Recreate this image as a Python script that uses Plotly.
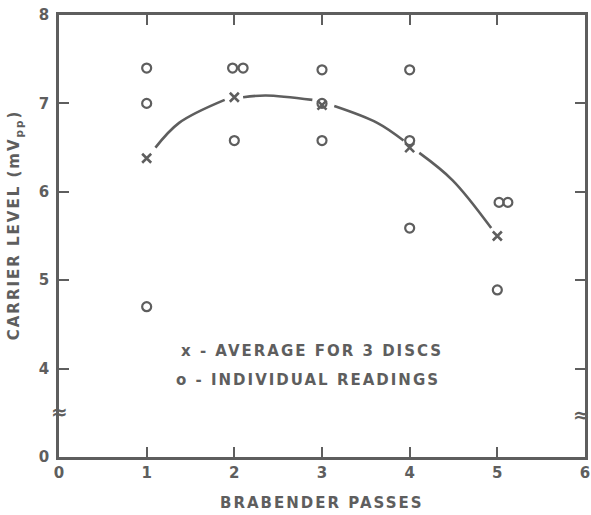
import plotly.graph_objects as go

# Brabender passes vs carrier level
passes = [1, 2, 3, 4, 5]
avg_level = [6.38, 7.07, 6.98, 6.50, 5.50]

indiv_x = [1, 1, 1, 1.98, 2.10, 2, 3, 3, 3, 4, 4, 4, 5.02, 5.12, 5.0]
indiv_y = [7.40, 7.00, 4.70, 7.40, 7.40, 6.58, 7.38, 7.00, 6.58, 7.38, 6.58, 5.59, 5.88, 5.88, 4.89]

# hand-drawn fit curve, broken around the markers
curve_x = [1.10, 1.37, 1.89, None, 2.10, 2.36, 2.89, None, 3.14, 3.63, 3.93, None, 4.11, 4.49, 4.93]
curve_y = [6.50, 6.78, 7.04, None, 7.07, 7.09, 7.04, None, 6.97, 6.78, 6.58, None, 6.44, 6.13, 5.59]

x_ticks = [0, 1, 2, 3, 4, 5, 6]
y_ticks = [3, 4, 5, 6, 7, 8]
y_tick_text = ["0", "4", "5", "6", "7", "8"]

ink = "#5e5e5e"
font = "DejaVu Sans"
label_font = dict(size=15, color=ink, family=font, weight="bold")

fig = go.Figure()
fig.add_trace(go.Scatter(x=curve_x, y=curve_y, mode="lines", line=dict(color=ink, width=2.6, shape="spline"),
                         connectgaps=False, hoverinfo="skip"))
fig.add_trace(go.Scatter(x=indiv_x, y=indiv_y, mode="markers",
                         marker=dict(symbol="circle-open", size=9, color=ink, line=dict(width=2.2))))
fig.add_trace(go.Scatter(x=passes, y=avg_level, mode="markers",
                         marker=dict(symbol="x-thin-open", size=9, color=ink, line=dict(width=2.6))))

fig.update_layout(
    width=591, height=515,
    margin=dict(l=59, r=1, t=15, b=58),
    plot_bgcolor="white", paper_bgcolor="white",
    showlegend=False,
    font=dict(family=font, color=ink, size=15),
)
fig.update_xaxes(range=[0, 6], tickvals=x_ticks, showgrid=False, zeroline=False,
                 showline=True, linecolor=ink, linewidth=2.5, mirror="ticks",
                 ticks="inside", ticklen=10, tickwidth=2, tickcolor=ink,
                 tickfont=label_font, ticklabeloverflow="allow")
fig.update_yaxes(range=[3, 8], tickvals=y_ticks, ticktext=y_tick_text, showgrid=False, zeroline=False,
                 showline=True, linecolor=ink, linewidth=2.5, mirror="ticks",
                 ticks="inside", ticklen=10, tickwidth=2, tickcolor=ink,
                 tickfont=label_font, ticklabelstandoff=4, ticklabeloverflow="allow")

# axis break marks
for bx, by in [(0, 3.51), (5.965, 3.47)]:
    fig.add_annotation(x=bx, y=by, text="≈", showarrow=False,
                       font=dict(size=20, color=ink, family=font, weight="bold"))

fig.add_annotation(x=3.0, y=-0.104, xref="x", yref="paper", yanchor="middle", text="BRABENDER PASSES",
                   showarrow=False, font=label_font)
fig.add_annotation(x=-0.083, y=0.525, xref="paper", yref="paper", xanchor="center", yanchor="middle",
                   text="CARRIER LEVEL (mV<sub>pp</sub>)", showarrow=False, textangle=-90, font=label_font)

fig.add_annotation(x=2.89, y=4.20, text="x - AVERAGE FOR 3 DISCS", showarrow=False, font=label_font)
fig.add_annotation(x=2.84, y=3.87, text="o - INDIVIDUAL READINGS", showarrow=False, font=label_font)

# no page margin, and the wide lettering of the original
post = """
document.documentElement.style.overflow = 'hidden';
document.body.style.margin = '0';
document.querySelectorAll('.annotation-text').forEach(function (t) {
  if (t.textContent.length > 2) { t.style.letterSpacing = '2px'; }
});
"""

fig.write_html("out.html", post_script=post, config={"displayModeBar": False})
